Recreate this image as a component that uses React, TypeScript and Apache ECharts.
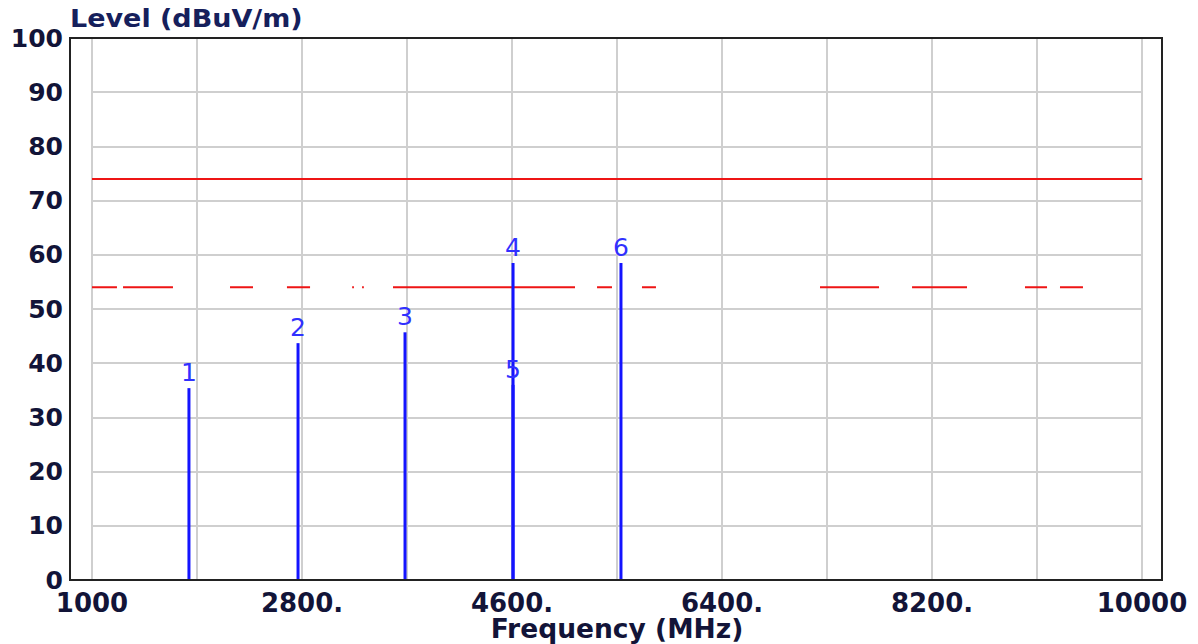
import React, { useEffect, useRef } from "react";
import * as echarts from "echarts";

// Frequency axis (MHz)
const X_MIN = 1000;
const X_MAX = 10000;
const X_STEP = 900;
const xTickLabels = ["1000", "2800.", "4600.", "6400.", "8200.", "10000"];

// Level axis (dBuV/m)
const Y_MIN = 0;
const Y_MAX = 100;
const Y_STEP = 10;

// Measured peaks
const peakNames = ["1", "2", "3", "4", "5", "6"];
const peakFreqs = [1831, 2766, 3683, 4609, 4609, 5534];
const peakLevels = [35.4, 43.7, 45.7, 58.5, 36.0, 58.5];

// Limit lines
const peakLimit = 74;
const avgLimit = 54;
// visible parts of the broken average-limit line (MHz start, end)
const avgLimitSegments: [number, number][] = [
  [1000, 1214],
  [1266, 1694],
  [2183, 2380],
  [2671, 2869],
  [3230, 3245],
  [3315, 3330],
  [3580, 5140],
  [5329, 5457],
  [5714, 5834],
  [7240, 7746],
  [8029, 8500],
  [8997, 9186],
  [9297, 9494],
];

const TEXT_COLOR = "#121438";
const FONT = "DejaVu Sans";

export default function App() {
  const ref = useRef<HTMLDivElement>(null);

  useEffect(() => {
    if (!ref.current) return;
    const chart = echarts.init(ref.current, null, { renderer: "svg" });

    const off = (f: number) => f - X_MIN;

    const avgData: any[] = [];
    avgLimitSegments.forEach(([a, b]) => {
      avgData.push([off(a), avgLimit]);
      avgData.push([off(b), avgLimit]);
      avgData.push([off(b), "-"]);
    });

    const peakData = peakNames.map((n, i) => ({
      name: n,
      value: [off(peakFreqs[i]), peakLevels[i]],
    }));

    chart.setOption({
      animation: false,
      backgroundColor: "#ffffff",
      grid: { left: 92, top: 38, width: 1050, height: 542, containLabel: false },
      xAxis: {
        type: "value",
        min: 0,
        max: X_MAX - X_MIN,
        interval: X_STEP,
        axisLine: { show: false },
        axisTick: { show: false },
        splitLine: { show: true, lineStyle: { color: "#cfcfcf", width: 2 } },
        axisLabel: {
          margin: 10,
          color: TEXT_COLOR,
          fontFamily: FONT,
          fontWeight: "bold",
          fontSize: 26,
          showMinLabel: true,
          showMaxLabel: true,
          formatter: (v: number) =>
            v % (X_STEP * 2) === 0 ? xTickLabels[v / (X_STEP * 2)] : "",
        },
      },
      yAxis: {
        type: "value",
        min: Y_MIN,
        max: Y_MAX,
        interval: Y_STEP,
        axisLine: { show: false },
        axisTick: { show: false },
        splitLine: { show: true, lineStyle: { color: "#cfcfcf", width: 2 } },
        axisLabel: {
          margin: 29,
          color: TEXT_COLOR,
          fontFamily: FONT,
          fontWeight: "bold",
          fontSize: 25,
        },
      },
      series: [
        {
          type: "line",
          data: [
            [0, peakLimit],
            [X_MAX - X_MIN, peakLimit],
          ],
          symbol: "none",
          lineStyle: { color: "#ee1515", width: 2 },
          z: 3,
        },
        {
          type: "line",
          data: avgData,
          symbol: "none",
          connectNulls: false,
          lineStyle: { color: "#ee1515", width: 2 },
          z: 3,
        },
        {
          type: "bar",
          data: peakData,
          barWidth: 3,
          itemStyle: { color: "#1414ff" },
          label: {
            show: true,
            position: "top",
            distance: 3,
            formatter: "{b}",
            color: "#3030ff",
            fontFamily: FONT,
            fontSize: 25,
          },
          z: 4,
        },
      ],
      graphic: [
        {
          type: "rect",
          shape: { x: 70, y: 38, width: 1092, height: 542 },
          style: { fill: "none", stroke: "#222222", lineWidth: 2 },
          z: 10,
          silent: true,
        },
        {
          type: "text",
          x: 70,
          y: 31,
          scaleX: 1.08,
          style: {
            text: "Level (dBuV/m)",
            fill: "#16205c",
            font: `bold 25px "${FONT}"`,
            textVerticalAlign: "bottom",
          },
          z: 10,
        },
        {
          type: "text",
          x: 617,
          y: 629,
          scaleX: 1.02,
          style: {
            text: "Frequency (MHz)",
            fill: TEXT_COLOR,
            font: `bold 26px "${FONT}"`,
            textAlign: "center",
            textVerticalAlign: "middle",
          },
          z: 10,
        },
      ],
    });

    return () => chart.dispose();
  }, []);

  return (
    <div
      ref={ref}
      style={{ position: "fixed", left: 0, top: 0, width: 1198, height: 644 }}
    />
  );
}
